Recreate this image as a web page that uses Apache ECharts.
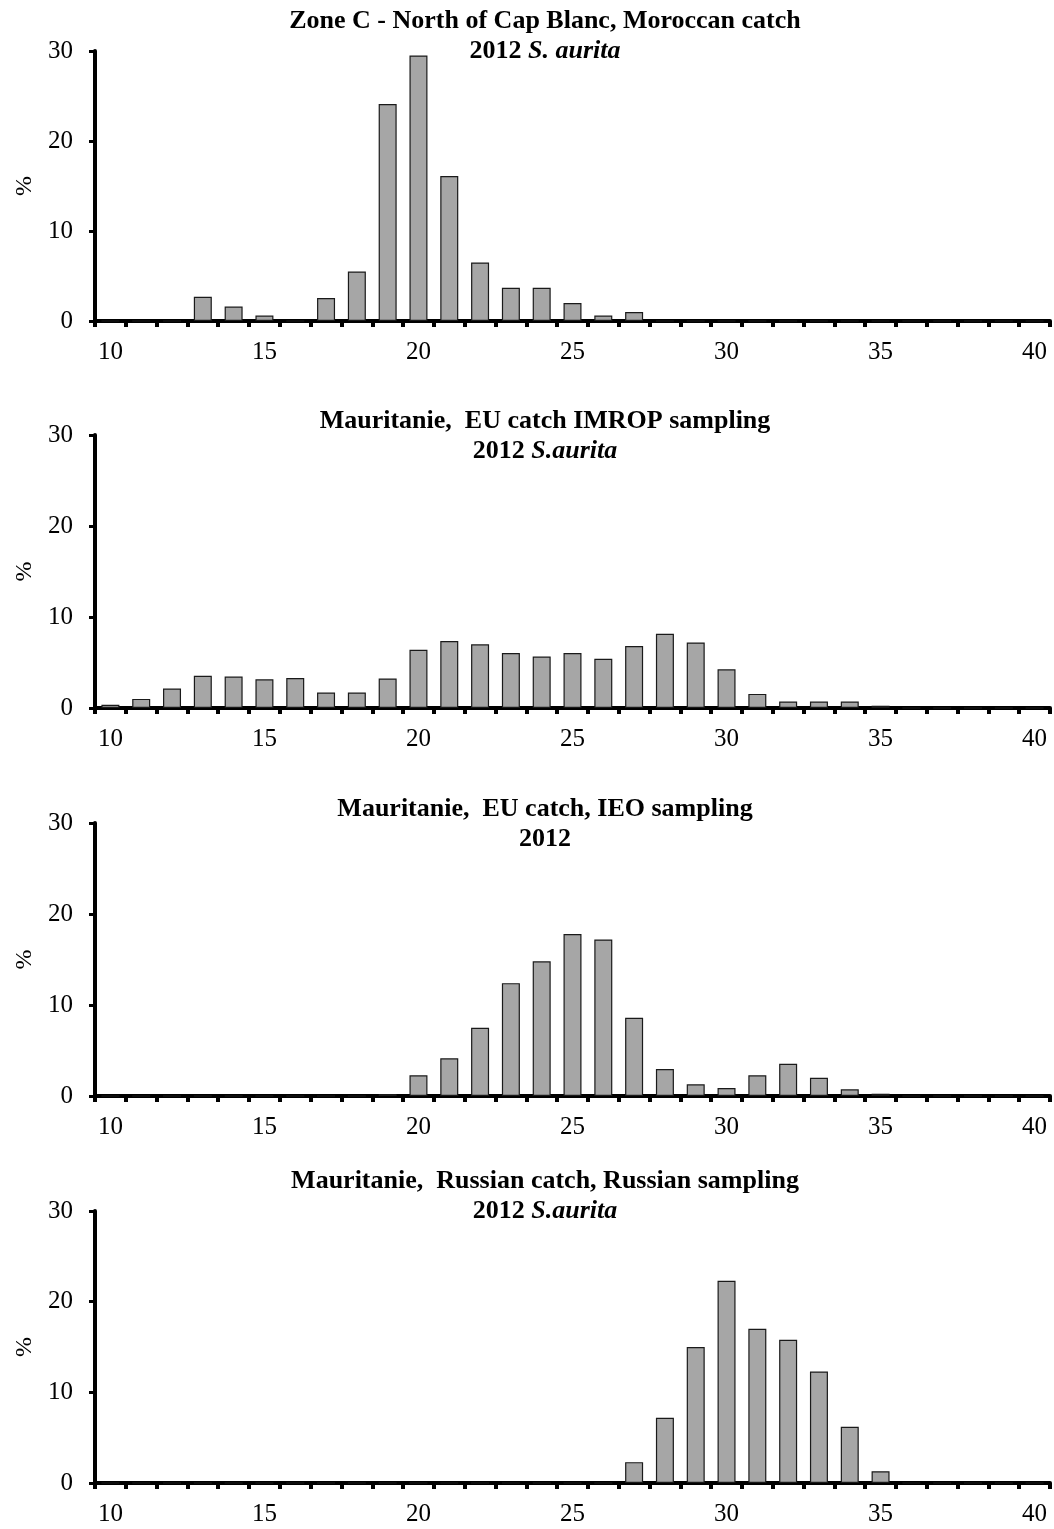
<!DOCTYPE html>
<html>
<head>
<meta charset="utf-8">
<script src="https://cdn.jsdelivr.net/npm/echarts@6/dist/echarts.min.js"></script>
<style>
  html, body { margin: 0; padding: 0; background: #fff; }
  #main { width: 1054px; height: 1529px; }
</style>
</head>
<body>
<div id="main"></div>
<script>
var myChart = echarts.init(document.getElementById('main'));

// length classes (cm)
var lengths = ['10','11','12','13','14','15','16','17','18','19','20','21','22','23','24','25',
               '26','27','28','29','30','31','32','33','34','35','36','37','38','39','40'];

// percentages per length class
var zoneC =   [0, 0, 0, 2.7, 1.6, 0.6, 0, 2.55, 5.5, 24.1, 29.5, 16.1, 6.5, 3.7, 3.7, 2.0,
               0.6, 1.0, 0, 0, 0, 0, 0, 0, 0, 0, 0, 0, 0, 0, 0];
var imrop =   [0.35, 1.0, 2.15, 3.55, 3.45, 3.15, 3.3, 1.7, 1.7, 3.25, 6.4, 7.35, 7.0, 6.05, 5.65, 6.05,
               5.4, 6.8, 8.15, 7.2, 4.25, 1.55, 0.72, 0.72, 0.72, 0.25, 0, 0, 0, 0, 0];
var ieo =     [0, 0, 0, 0, 0, 0, 0, 0, 0, 0.2, 2.27, 4.14, 7.5, 12.4, 14.8, 17.8,
               17.2, 8.6, 2.96, 1.28, 0.88, 2.27, 3.55, 2.0, 0.73, 0.25, 0, 0, 0, 0, 0];
var russian = [0, 0, 0, 0, 0, 0, 0, 0, 0, 0, 0, 0, 0, 0, 0, 0,
               0, 2.3, 7.2, 15.0, 22.3, 17.0, 15.8, 12.3, 6.2, 1.3, 0, 0, 0, 0, 0];

var titleLines = [
  ['Zone C - North of Cap Blanc, Moroccan catch', '2012 ', 'S. aurita'],
  ['Mauritanie,  EU catch IMROP sampling', '2012 ', 'S.aurita'],
  ['Mauritanie,  EU catch, IEO sampling', '2012', ''],
  ['Mauritanie,  Russian catch, Russian sampling', '2012 ', 'S.aurita']
];
var panels = [zoneC, imrop, ieo, russian];

var gridTops = [51, 435, 823, 1211];
var gridHeights = [270, 273, 273, 272];
var titleTops = [6, 406, 794, 1166];

var serif = '"Liberation Serif", "Times New Roman", serif';

var titles = [], grids = [], xAxes = [], yAxes = [], series = [];
panels.forEach(function (vals, i) {
  var t = titleLines[i];
  titles.push({
    left: 545,
    top: titleTops[i],
    textAlign: 'center',
    padding: 0,
    text: '{b|' + t[0] + '}\n{b|' + t[1] + '}' + (t[2] ? '{i|' + t[2] + '}' : ''),
    textStyle: {
      rich: {
        b: { fontFamily: serif, fontSize: 26, fontWeight: 'bold', color: '#000', lineHeight: 30 },
        i: { fontFamily: serif, fontSize: 26, fontWeight: 'bold', fontStyle: 'italic', color: '#000', lineHeight: 30 }
      }
    }
  });
  grids.push({ left: 95, right: 4, top: gridTops[i], height: gridHeights[i] });
  xAxes.push({
    type: 'category',
    gridIndex: i,
    data: lengths,
    boundaryGap: true,
    axisLine: { lineStyle: { color: '#000', width: 4 } },
    axisTick: { show: true, interval: 0, length: 6, lineStyle: { color: '#000', width: 4 } },
    axisLabel: { interval: 4, margin: 19, color: '#000', fontFamily: serif, fontSize: 25 },
    splitLine: { show: false }
  });
  yAxes.push({
    type: 'value',
    gridIndex: i,
    min: 0,
    max: 30,
    interval: 10,
    name: '%',
    nameLocation: 'middle',
    nameGap: 58,
    nameTextStyle: { color: '#000', fontFamily: serif, fontSize: 24 },
    axisLine: { show: true, lineStyle: { color: '#000', width: 4 } },
    axisTick: { show: true, length: 6, lineStyle: { color: '#000', width: 3 } },
    axisLabel: { margin: 22, color: '#000', fontFamily: serif, fontSize: 25 },
    splitLine: { show: false }
  });
  series.push({
    type: 'bar',
    xAxisIndex: i,
    yAxisIndex: i,
    data: vals,
    barWidth: 18,
    itemStyle: { color: '#a6a6a6', borderColor: '#1a1a1a', borderWidth: 1.2 },
    silent: true
  });
});

myChart.setOption({
  animation: false,
  backgroundColor: '#fff',
  title: titles,
  grid: grids,
  xAxis: xAxes,
  yAxis: yAxes,
  series: series
});
</script>
</body>
</html>
